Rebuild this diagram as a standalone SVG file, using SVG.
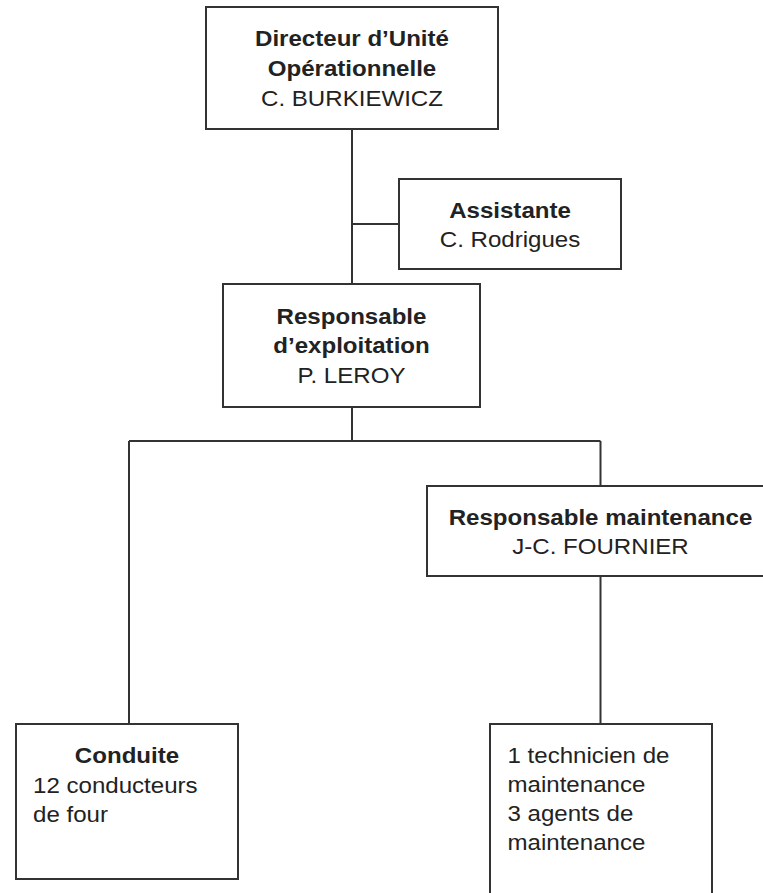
<svg xmlns="http://www.w3.org/2000/svg" width="763" height="893" viewBox="0 0 763 893">
<style>
.box{fill:#fff;stroke:#333;stroke-width:2}
.ln{fill:none;stroke:#333;stroke-width:2}
text{font-family:"Liberation Sans",Arial,sans-serif;font-size:22.5px;fill:#222}
.b{font-weight:bold}
.c{text-anchor:middle}
</style>
<rect width="763" height="893" fill="#fff"/>
<g id="connectors">
<path class="ln" d="M352,129 V284"/>
<path class="ln" d="M352,224 H399"/>
<path class="ln" d="M352,407 V441"/>
<path class="ln" d="M129,441 H600.5"/>
<path class="ln" d="M129,441 V724"/>
<path class="ln" d="M600.5,441 V486"/>
<path class="ln" d="M600.5,576 V724"/>
</g>
<g id="directeur">
<rect class="box" x="206" y="7" width="292" height="122"/>
<g transform="translate(352,0) scale(1.07,1)">
<text class="b c" x="0" y="46.5">Directeur d’Unité</text>
<text class="b c" x="0" y="76">Opérationnelle</text>
<text class="c" x="0" y="106">C. BURKIEWICZ</text>
</g>
</g>
<g id="assistante">
<rect class="box" x="399" y="179" width="222" height="90"/>
<g transform="translate(510,0) scale(1.07,1)">
<text class="b c" x="0" y="218.5">Assistante</text>
<text class="c" x="0" y="247.5">C. Rodrigues</text>
</g>
</g>
<g id="resp-exploitation">
<rect class="box" x="223" y="284" width="257" height="123"/>
<g transform="translate(351.5,0) scale(1.07,1)">
<text class="b c" x="0" y="324.5">Responsable</text>
<text class="b c" x="0" y="353.5">d’exploitation</text>
<text class="c" x="0" y="383">P. LEROY</text>
</g>
</g>
<g id="resp-maintenance">
<rect class="box" x="427" y="486" width="340" height="90"/>
<g transform="translate(600.5,0) scale(1.07,1)">
<text class="b c" x="0" y="525">Responsable maintenance</text>
<text class="c" x="0" y="554.5">J-C. FOURNIER</text>
</g>
</g>
<g id="conduite">
<rect class="box" x="16" y="724" width="222" height="155"/>
<g transform="translate(127,0) scale(1.07,1)">
<text class="b c" x="0" y="763.5">Conduite</text>
</g>
<g transform="translate(33,0) scale(1.07,1)">
<text x="0" y="793">12 conducteurs</text>
<text x="0" y="822">de four</text>
</g>
</g>
<g id="maintenance-team">
<rect class="box" x="490" y="724" width="222" height="185"/>
<g transform="translate(507.5,0) scale(1.07,1)">
<text x="0" y="763.5">1 technicien de</text>
<text x="0" y="792.5">maintenance</text>
<text x="0" y="821.5">3 agents de</text>
<text x="0" y="850.5">maintenance</text>
</g>
</g>
</svg>
